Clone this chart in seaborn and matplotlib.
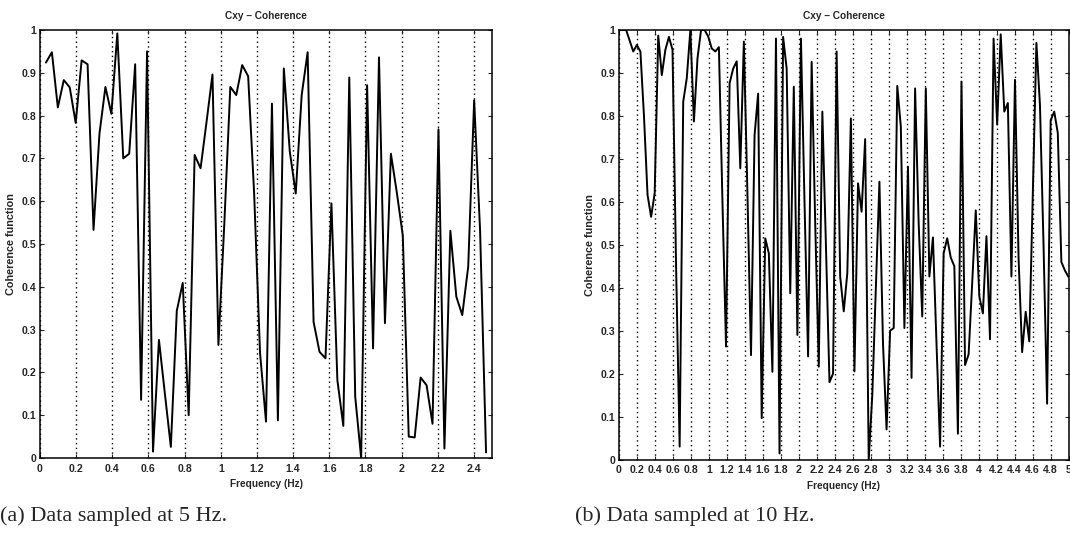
import numpy as np
import pandas as pd
import matplotlib
matplotlib.use("Agg")
import matplotlib.pyplot as plt
import seaborn as sns

# ---------------- data ----------------
# (a) 5 Hz sampling: frequency bins 1..75, step 5/152 Hz
step_a = 5.0 / 152
bins_a = np.arange(1, 76)
coh_a = [0.924, 0.948, 0.819, 0.883, 0.866, 0.783, 0.929, 0.920, 0.533, 0.758,
         0.867, 0.804, 0.992, 0.700, 0.711, 0.920, 0.136, 0.950, 0.015, 0.276,
         0.150, 0.026, 0.344, 0.409, 0.100, 0.708, 0.677, 0.785, 0.896, 0.264,
         0.550, 0.867, 0.848, 0.918, 0.892, 0.620, 0.245, 0.085, 0.828, 0.088,
         0.910, 0.716, 0.618, 0.848, 0.948, 0.318, 0.248, 0.233, 0.595, 0.182,
         0.075, 0.889, 0.143, 0.000, 0.871, 0.256, 0.936, 0.315, 0.711, 0.620,
         0.520, 0.050, 0.048, 0.188, 0.170, 0.080, 0.768, 0.022, 0.531, 0.377,
         0.334, 0.447, 0.836, 0.530, 0.013]

# (b) 10 Hz sampling: frequency bins 0..126, step 5/126 Hz
step_b = 5.0 / 126
bins_b = np.arange(0, 127)
coh_b = [1.000, 1.000, 1.000, 0.975, 0.950, 0.965, 0.950, 0.800, 0.616, 0.565,
         0.620, 0.987, 0.895, 0.954, 0.984, 0.954, 0.450, 0.030, 0.833, 0.888,
         1.000, 0.787, 0.934, 1.000, 1.000, 0.985, 0.957, 0.950, 0.960, 0.600,
         0.263, 0.876, 0.910, 0.927, 0.678, 0.973, 0.620, 0.243, 0.755, 0.852,
         0.096, 0.515, 0.480, 0.204, 0.980, 0.014, 0.984, 0.910, 0.387, 0.868,
         0.290, 0.980, 0.600, 0.240, 0.926, 0.550, 0.216, 0.810, 0.500, 0.180,
         0.200, 0.950, 0.426, 0.345, 0.434, 0.794, 0.205, 0.643, 0.577, 0.746,
         0.000, 0.150, 0.400, 0.647, 0.270, 0.070, 0.300, 0.306, 0.870, 0.775,
         0.306, 0.682, 0.190, 0.864, 0.550, 0.333, 0.864, 0.426, 0.517, 0.270,
         0.030, 0.480, 0.515, 0.470, 0.450, 0.060, 0.880, 0.220, 0.245, 0.410,
         0.580, 0.380, 0.340, 0.520, 0.280, 0.980, 0.780, 0.990, 0.810, 0.830,
         0.426, 0.884, 0.470, 0.250, 0.344, 0.275, 0.620, 0.970, 0.825, 0.500,
         0.130, 0.790, 0.810, 0.760, 0.460, 0.440, 0.425]

title_text = "Cxy \u2013 Coherence"
xlabel_text = "Frequency (Hz)"
ylabel_text = "Coherence function"
caption_a = "(a) Data sampled at 5 Hz."
caption_b = "(b) Data sampled at 10 Hz."
xticks_a = [0, 0.2, 0.4, 0.6, 0.8, 1, 1.2, 1.4, 1.6, 1.8, 2, 2.2, 2.4]
xticks_b = [0, 0.2, 0.4, 0.6, 0.8, 1, 1.2, 1.4, 1.6, 1.8, 2, 2.2, 2.4, 2.6,
            2.8, 3, 3.2, 3.4, 3.6, 3.8, 4, 4.2, 4.4, 4.6, 4.8, 5]
yticks = [0, 0.1, 0.2, 0.3, 0.4, 0.5, 0.6, 0.7, 0.8, 0.9, 1]

df_a = pd.DataFrame({"freq": bins_a * step_a, "coh": coh_a})
df_b = pd.DataFrame({"freq": bins_b * step_b, "coh": coh_b})

# ---------------- style ----------------
sns.set_style("ticks")
plt.rcParams["font.family"] = ["Liberation Sans", "DejaVu Sans"]

fig = plt.figure(figsize=(10.7, 5.35), dpi=100)
W, H = 1070, 535
ax_a = fig.add_axes([40 / W, (H - 458) / H, 452 / W, 428 / H])
ax_b = fig.add_axes([619 / W, (H - 459.5) / H, 449.5 / W, 429.5 / H])


def fmt(v):
    return ("%g" % v)


for ax, data, xt, xmax in [(ax_a, df_a, xticks_a, 2.5), (ax_b, df_b, xticks_b, 5.0)]:
    sns.lineplot(data=data, x="freq", y="coh", ax=ax, color="black",
                 linewidth=1.4, estimator=None, sort=False)
    ax.set_xlim(0, xmax)
    ax.set_ylim(0, 1)
    ax.set_xticks(xt)
    ax.set_xticklabels([fmt(v) for v in xt])
    ax.set_yticks(yticks)
    ax.set_yticklabels([fmt(v) for v in yticks])
    ax.tick_params(direction="in", top=True, right=True, length=3, width=0.8,
                   labelsize=7.6)
    ax.tick_params(axis="x", pad=4)
    ax.tick_params(axis="y", pad=2.5)
    for lab in ax.get_xticklabels() + ax.get_yticklabels():
        lab.set_fontweight("bold")
    ax.xaxis.grid(True, linestyle=(0, (1, 2.4)), color="black", linewidth=1.0)
    ax.yaxis.grid(False)
    for s in ax.spines.values():
        s.set_linewidth(1.1)
        s.set_color("black")
    ax.set_title(title_text, fontsize=7.3, fontweight="bold", pad=8)
    ax.set_xlabel(xlabel_text, fontsize=7.3, fontweight="bold", labelpad=4)
    ax.set_ylabel(ylabel_text, fontsize=7.8, fontweight="bold", labelpad=4)

fig.text(0 / W, 1 - 516 / H, caption_a, fontsize=16, family="Liberation Serif",
         ha="left", va="center")
fig.text(575 / W, 1 - 516 / H, caption_b, fontsize=16, family="Liberation Serif",
         ha="left", va="center")

fig.savefig("out.png", dpi=100)
